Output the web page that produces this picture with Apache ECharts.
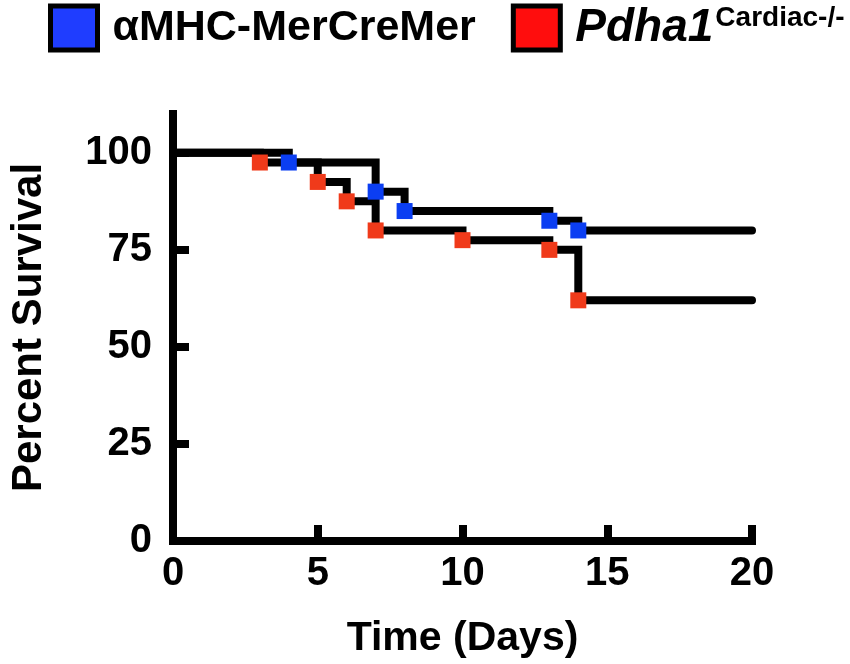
<!DOCTYPE html>
<html>
<head>
<meta charset="utf-8">
<title>Survival</title>
<script src="https://cdn.jsdelivr.net/npm/echarts@6.0.0/dist/echarts.min.js"></script>
<style>
  html, body { margin: 0; padding: 0; background: #fff; }
  #main { width: 850px; height: 664px; }
</style>
</head>
<body>
<div id="main"></div>
<script>
// 数据
var groupNames = ['αMHC-MerCreMer', 'Pdha1 Cardiac-/-'];
var ctrlDays = [4, 7, 8, 13, 14];
var ctrlSurv = [97.5, 90, 85, 82.5, 80];
var koDays = [3, 5, 6, 7, 10, 13, 14];
var koSurv = [97.5, 92.5, 87.5, 80, 77.5, 75, 62];
var startDay = 0, endDay = 20;
var yTicks = [0, 25, 50, 75, 100];

// 步进曲线: start at 100%, keep the last value until the end of the axis
function stepData(days, surv) {
    var d = [[startDay, 100]];
    for (var i = 0; i < days.length; i++) d.push([days[i], surv[i]]);
    d.push([endDay, surv[surv.length - 1]]);
    return d;
}
function pointData(days, surv) {
    return days.map(function (x, i) { return [x, surv[i]]; });
}

var font = '"Liberation Sans", Arial, sans-serif';
var dom = document.getElementById("main");
var myChart = echarts.init(dom);
var option = {
    animation: false,
    backgroundColor: '#fff',
    textStyle: { fontFamily: font },
    legend: {
        top: 3,
        left: 48,
        padding: 0,
        width: 800,
        itemWidth: 47,
        itemHeight: 44,
        itemGap: 35,
        selectedMode: false,
        data: [
            { name: groupNames[0], icon: 'rect', itemStyle: { color: '#1f3dff', borderColor: '#000', borderWidth: 5 } },
            { name: groupNames[1], icon: 'rect', itemStyle: { color: '#ff0d0d', borderColor: '#000', borderWidth: 5 } }
        ],
        formatter: function (name) {
            if (name === groupNames[1]) return '{i|Pdha1}{s|Cardiac-/-}';
            return '{b|' + name + '}';
        },
        textStyle: {
            padding: [0, 0, 0, 10],
            rich: {
                b: { fontSize: 43, fontWeight: 'bold', color: '#000', fontFamily: font, lineHeight: 50 },
                i: { fontSize: 46, fontWeight: 'bold', fontStyle: 'italic', color: '#000', fontFamily: font, lineHeight: 50, padding: [0, 2, 0, 0] },
                s: { fontSize: 28, fontWeight: 'bold', color: '#000', fontFamily: font, verticalAlign: 'top', lineHeight: 30, padding: [1, 0, 0, 0] }
            }
        }
    },
    grid: { left: 170, right: 98, top: 114, bottom: 123 },
    xAxis: {
        type: 'value',
        min: startDay,
        max: endDay,
        interval: 5,
        name: 'Time (Days)',
        nameLocation: 'middle',
        nameGap: 77,
        nameTextStyle: { fontSize: 41, fontWeight: 'bold', color: '#000', fontFamily: font },
        axisLine: { lineStyle: { color: '#000', width: 8, cap: 'square' } },
        axisTick: { inside: true, length: 16, lineStyle: { color: '#000', width: 8 } },
        axisLabel: { fontSize: 40, fontWeight: 'bold', color: '#000', margin: 13, fontFamily: font },
        splitLine: { show: false }
    },
    yAxis: {
        type: 'value',
        min: 0,
        max: 110,
        interval: 25,
        name: 'Percent Survival',
        nameLocation: 'middle',
        nameGap: 123,
        nameTextStyle: { fontSize: 42, fontWeight: 'bold', color: '#000', fontFamily: font },
        axisLine: { lineStyle: { color: '#000', width: 8, cap: 'square' } },
        axisTick: { inside: true, length: 16, customValues: yTicks, lineStyle: { color: '#000', width: 8 } },
        axisLabel: { fontSize: 40, fontWeight: 'bold', color: '#000', margin: 21, customValues: yTicks, fontFamily: font },
        splitLine: { show: false }
    },
    series: [
        {
            name: 'ctrl-line', type: 'line', step: 'end', silent: true,
            showSymbol: false, z: 2,
            lineStyle: { color: '#000', width: 8, cap: 'round', join: 'miter' },
            data: stepData(ctrlDays, ctrlSurv)
        },
        {
            name: 'ko-line', type: 'line', step: 'end', silent: true,
            showSymbol: false, z: 2,
            lineStyle: { color: '#000', width: 8, cap: 'round', join: 'miter' },
            data: stepData(koDays, koSurv)
        },
        {
            name: groupNames[0], type: 'scatter', symbol: 'rect', symbolSize: 16, z: 5, silent: true,
            itemStyle: { color: '#0b3ef2', opacity: 1 },
            data: pointData(ctrlDays, ctrlSurv)
        },
        {
            name: groupNames[1], type: 'scatter', symbol: 'rect', symbolSize: 16, z: 5, silent: true,
            itemStyle: { color: '#f03a1a', opacity: 1 },
            data: pointData(koDays, koSurv)
        }
    ]
};
myChart.setOption(option);
</script>
</body>
</html>
